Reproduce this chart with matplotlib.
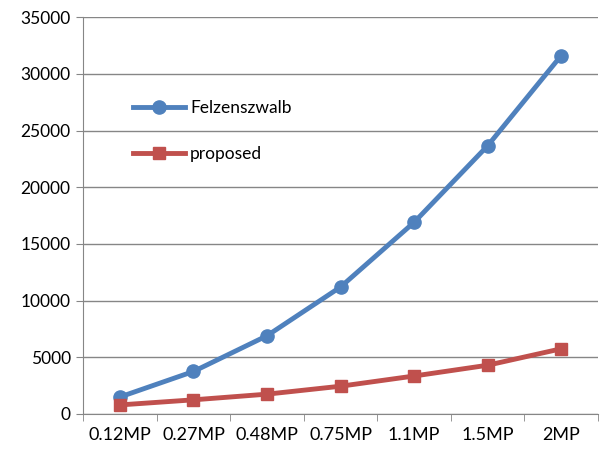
import matplotlib
matplotlib.use('Agg')
import matplotlib.pyplot as plt

plt.rcParams['font.family'] = ['Lato', 'DejaVu Sans']

sizes = ['0.12MP', '0.27MP', '0.48MP', '0.75MP', '1.1MP', '1.5MP', '2MP']
felzenszwalb = [1500, 3750, 6900, 11200, 16900, 23650, 31600]
proposed = [800, 1250, 1750, 2450, 3350, 4300, 5750]

fig = plt.figure(figsize=(6.07, 4.5), dpi=100)
ax = fig.add_axes([0.137, 0.08, 0.848, 0.882])

x = range(len(sizes))
ax.plot(x, felzenszwalb, color='#4F81BD', lw=3.5, marker='o', ms=9.5, label='Felzenszwalb')
ax.plot(x, proposed, color='#C0504D', lw=3.5, marker='s', ms=8.5, label='proposed')

ax.set_xlim(-0.5, len(sizes) - 0.5)
ax.set_ylim(0, 35000)
ax.set_yticks(range(0, 35001, 5000))
ax.set_xticks(list(x))
ax.set_xticklabels(sizes)
ax.set_xticks([i - 0.5 for i in range(len(sizes) + 1)], minor=True)
ax.tick_params(axis='x', which='major', length=0, pad=9, labelsize=13)
ax.tick_params(axis='x', which='minor', length=5, color='#868686')
ax.tick_params(axis='y', length=5, color='#868686', labelsize=12.5, pad=4)

ax.grid(axis='y', color='#868686', lw=1)
ax.set_axisbelow(True)
for s in ['top', 'right']:
    ax.spines[s].set_visible(False)
for s in ['left', 'bottom']:
    ax.spines[s].set_color('#868686')

ax.legend(loc='upper left', bbox_to_anchor=(0.066, 0.83), frameon=False,
          fontsize=12.5, handlelength=3.0, labelspacing=1.7, handletextpad=0.3)

fig.savefig('out.png', dpi=100)
